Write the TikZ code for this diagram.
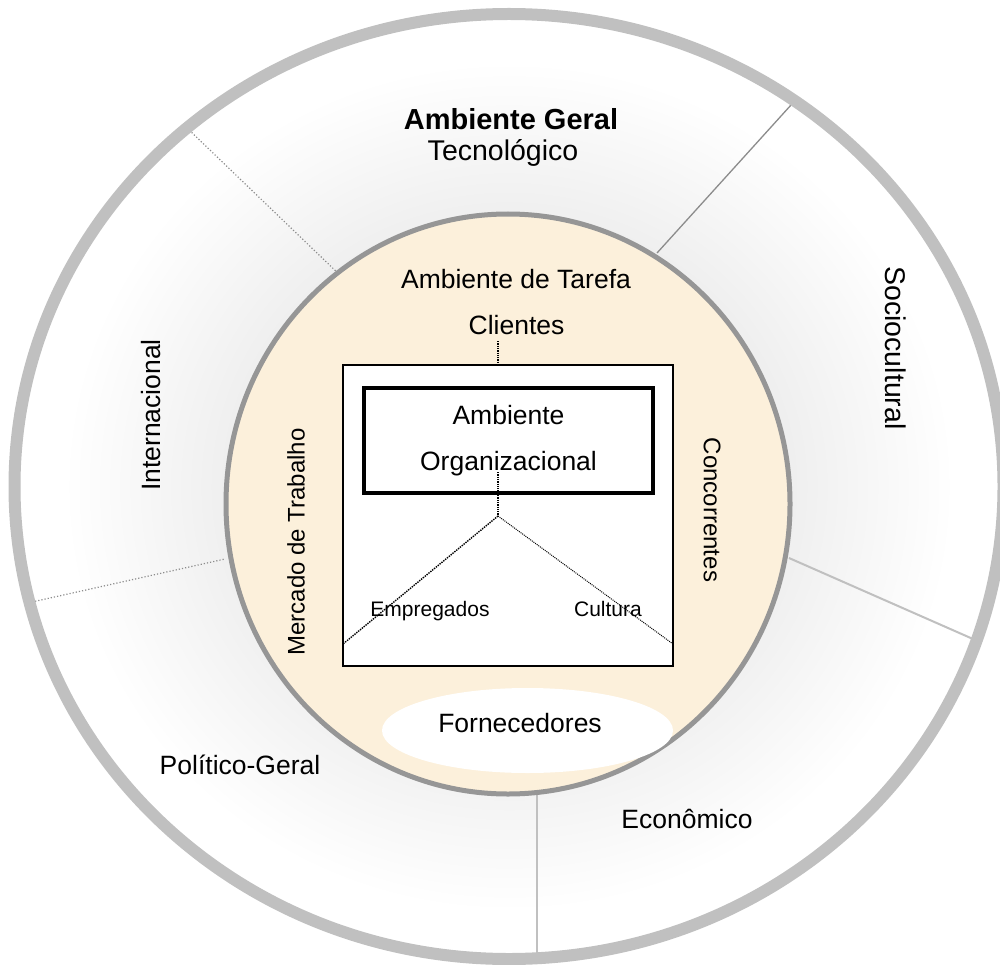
\documentclass[tikz,border=0pt]{standalone}
\usepackage{fontspec}
\setmainfont{Liberation Sans}
\usetikzlibrary{shapes.geometric}

\definecolor{anel}{RGB}{192,192,192}
\definecolor{borda}{RGB}{150,150,150}
\definecolor{divisa}{RGB}{140,140,140}
\definecolor{bege}{RGB}{252,240,219}

% sombra clara em volta do ambiente de tarefa
\pgfdeclareradialshading{sombra}{\pgfpoint{0bp}{0bp}}{color(0bp)=(gray!13); color(14bp)=(gray!13); color(22.5bp)=(white); color(25bp)=(white); color(50bp)=(white)}

\tikzset{
  texto/.style={font=\fontsize{26.5}{30}\selectfont},
  orgbox/.style={draw, fill=white, inner sep=0pt}
}

\begin{document}
\begin{tikzpicture}[x=1pt,y=-1pt]
  \useasboundingbox (0,0) rectangle (1000,965);
  \clip (0,0) rectangle (1000,965);

  % ambiente geral
  \shade[shading=sombra] (509,486.5) ellipse [x radius=494.5pt, y radius=472.5pt];

  \coordinate (L1a) at (187,128);  \coordinate (L1b) at (343,278);
  \coordinate (L2a) at (791,105);  \coordinate (L2b) at (657,253);
  \coordinate (L3a) at (973,639);  \coordinate (L3b) at (789,558);
  \coordinate (L4a) at (32,602);   \coordinate (L4b) at (225,559);
  \coordinate (L5a) at (537,958);  \coordinate (L5b) at (537,795);

  \draw[divisa, line width=1.2pt, dotted] (L1a) -- (L1b);
  \draw[divisa, line width=1.3pt] (L2a) -- (L2b);
  \draw[anel, line width=2pt] (L3a) -- (L3b);
  \draw[divisa, line width=1.2pt, dotted] (L4a) -- (L4b);
  \draw[anel, line width=2pt] (L5a) -- (L5b);

  \draw[anel, line width=12pt] (509,486.5) ellipse [x radius=494.5pt, y radius=472.5pt];

  % ambiente de tarefa
  \draw[borda, line width=5pt, fill=bege] (508,504) ellipse [x radius=282pt, y radius=290pt];

  \node[ellipse, fill=white, minimum width=291pt, minimum height=85pt, inner sep=0pt] (forn) at (527.5,730.5) {};

  % ambiente organizacional
  \node[orgbox, line width=1.5pt, minimum width=330pt, minimum height=301pt] (org) at (508,515.5) {};
  \node[orgbox, line width=4pt, minimum width=289pt, minimum height=105pt, align=center,
        font=\fontsize{26.5}{46}\selectfont] (amb) at (508.5,440.5) {Ambiente\\Organizacional};

  \coordinate (cli1) at (498,341);  \coordinate (cli2) at (498,365);
  \coordinate (tronco) at (498,472); \coordinate (ramo) at (498,516);
  \coordinate (emp) at (343,644);   \coordinate (cul) at (673,644);

  \draw[line width=1.3pt, densely dotted] (cli1) -- (cli2);
  \draw[line width=1.3pt, densely dotted] (tronco) -- (ramo);
  \draw[line width=1.4pt, densely dotted] (ramo) -- (emp);
  \draw[line width=1pt, densely dotted] (ramo) -- (cul);

  \begin{scope}[every node/.style={texto, anchor=base}]
    \node[font=\fontsize{29}{32}\selectfont\bfseries] (geral) at (511,130) {Ambiente Geral};
    \node[font=\fontsize{28.5}{32}\selectfont] (tec) at (503,161) {Tecnológico};
    \node (tarefa) at (516,289) {Ambiente de Tarefa};
    \node (clientes) at (516.5,334) {Clientes};
    \node[font=\fontsize{21}{24}\selectfont] (empregados) at (430,616) {Empregados};
    \node[font=\fontsize{21}{24}\selectfont] (cultura) at (608,616) {Cultura};
    \node (fornl) at (520,732) {Fornecedores};
    \node (politico) at (240,774) {Político-Geral};
    \node (economico) at (687,828) {Econômico};
  \end{scope}

  \begin{scope}[every node/.style={texto, anchor=center}]
    \node[rotate=90, font=\fontsize{24}{28}\selectfont] (mercado) at (296,542) {Mercado de Trabalho};
    \node[rotate=-90, font=\fontsize{24}{28}\selectfont] (concorrentes) at (712,510) {Concorrentes};
    \node[rotate=90] (internacional) at (151,415) {Internacional};
    \node[rotate=-90, font=\fontsize{28.5}{32}\selectfont] (socio) at (896,348) {Sociocultural};
  \end{scope}
\end{tikzpicture}
\end{document}
